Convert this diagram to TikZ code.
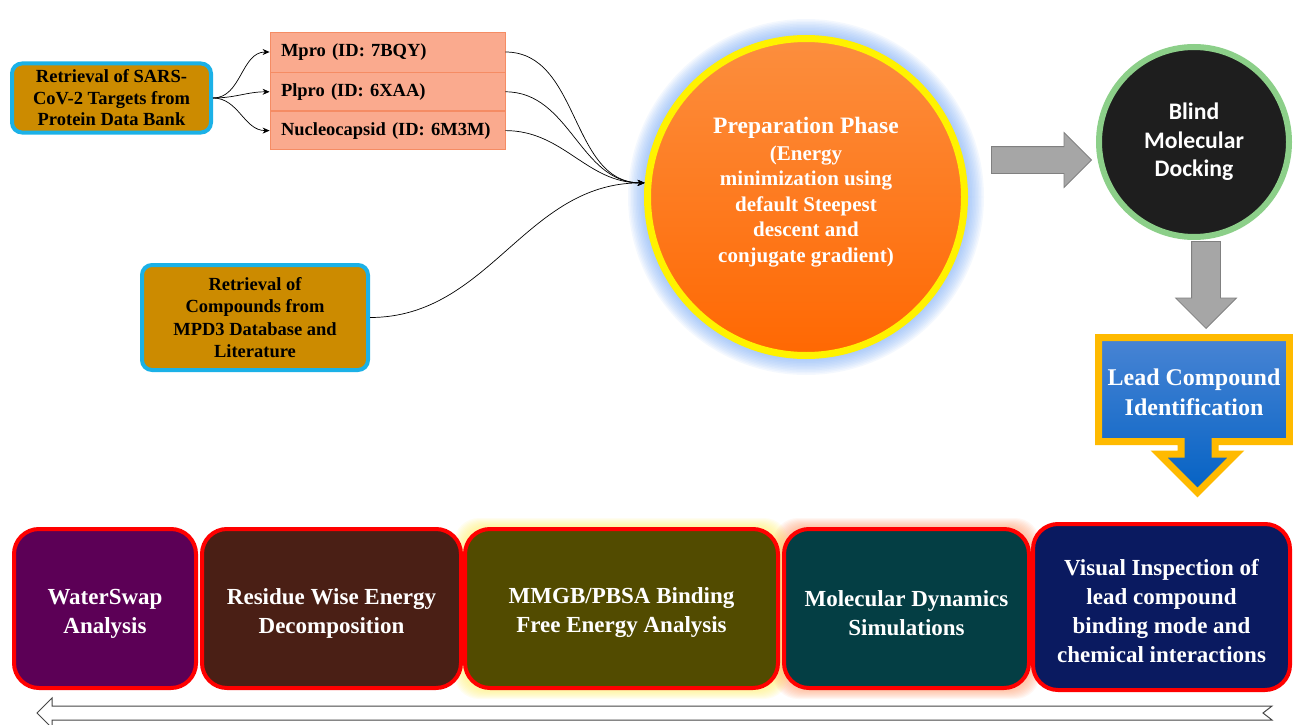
\documentclass[tikz,border=0pt]{standalone}
\usepackage{fontspec}
\setmainfont{Liberation Serif}
\newfontfamily\dockfont{Carlito}
\usetikzlibrary{arrows.meta,positioning,shapes.arrows}

\newcommand\fsz[2]{\fontsize{#1}{#2}\selectfont}
\newcommand\stagestrut{\rule{0pt}{25pt}}

\definecolor{fetchfill}{RGB}{204,139,0}
\definecolor{fetchedge}{RGB}{27,177,231}
\definecolor{pdbfill}{RGB}{250,170,142}
\definecolor{pdbedge}{RGB}{245,140,100}
\definecolor{phasetop}{RGB}{252,142,62}
\definecolor{phasebot}{RGB}{255,104,2}
\definecolor{phaseedge}{RGB}{255,242,0}
\definecolor{haloblue}{RGB}{120,170,245}
\definecolor{pointerfill}{RGB}{166,166,166}
\definecolor{pointeredge}{RGB}{128,128,128}
\definecolor{dockfill}{RGB}{30,30,30}
\definecolor{dockedge}{RGB}{140,207,137}
\definecolor{leadedge}{RGB}{255,186,0}
\definecolor{leadtop}{RGB}{72,132,212}
\definecolor{leadbot}{RGB}{4,98,196}
\definecolor{stageedge}{RGB}{255,0,0}
\definecolor{swapfill}{RGB}{92,0,86}
\definecolor{residfill}{RGB}{74,31,21}
\definecolor{mmfill}{RGB}{82,75,0}
\definecolor{mdfill}{RGB}{4,62,68}
\definecolor{visfill}{RGB}{10,26,96}
\definecolor{haloyellow}{RGB}{255,240,120}
\definecolor{haloorange}{RGB}{255,150,100}
\definecolor{timeline}{RGB}{70,70,70}

\begin{document}
\begin{tikzpicture}[x=1pt,y=-1pt,
    fetch/.style={draw=fetchedge, line width=4pt, fill=fetchfill, rounded corners=10pt, align=center, inner sep=0pt, font=\bfseries\fsz{18.5}{22.5}},
    pdb/.style={draw=pdbedge, line width=0.8pt, fill=pdbfill, text width=213pt, inner xsep=11pt, inner ysep=0pt, minimum height=38pt, align=left, font=\bfseries\fsz{18.5}{22}},
    link/.style={line width=0.7pt, -{Stealth[length=7pt,width=6pt]}},
    pointer/.style={single arrow, draw=pointeredge, fill=pointerfill, line width=0.8pt, inner xsep=0pt, anchor=tip},
    stage/.style={draw=stageedge, line width=4pt, rounded corners=25pt, text=white, align=center, minimum height=159pt, font=\bfseries\fsz{23}{29}}]
    \useasboundingbox (0,0) rectangle (1293,725);

    % input boxes
    \node[fetch, minimum width=199pt, minimum height=69pt, font=\bfseries\fsz{18.5}{21.5}] (targets) at (111.5,98) {Retrieval of SARS-\\CoV-2 Targets from\\Protein Data Bank};
    \node[fetch, minimum width=226pt, minimum height=105pt] (library) at (255,317.5) {Retrieval of\\Compounds from\\MPD3 Database and\\Literature};

    \node[pdb, minimum height=40pt] (mpro) at (387.5,52) {Mpro (ID: 7BQY)};
    \node[pdb, below=0pt of mpro] (plpro) {Plpro (ID: 6XAA)};
    \node[pdb, below=0pt of plpro] (ncap) {Nucleocapsid (ID: 6M3M)};

    % preparation phase with its halo
    \coordinate (phasec) at (806,197);
    \foreach \r in {163,164.5,...,178}
      \fill[haloblue, opacity=0.08] (phasec) circle (\r pt);
    \node[circle, draw=phaseedge, line width=7pt, top color=phasetop, bottom color=phasebot, minimum size=317pt] (phase) at (phasec) {};
    \node[text=white, align=center, font=\bfseries\fsz{21}{25.5}] (phasetext) at (806,192)
      {{\fsz{23.5}{27}Preparation Phase}\\[1.5pt](Energy\\minimization using\\default Steepest\\descent and\\conjugate gradient)};

    \draw[link] (targets.east) to[out=0,in=180] (mpro.west);
    \draw[link] (targets.east) to[out=0,in=180] (plpro.west);
    \draw[link] (targets.east) to[out=0,in=180] (ncap.west);
    \draw[link] (mpro.east) to[out=0,in=180] (phase.175);
    \draw[link] (plpro.east) to[out=0,in=180] (phase.175);
    \draw[link] (ncap.east) to[out=0,in=180] (phase.175);
    \draw[link] (library.east) to[out=0,in=180] (phase.175);

    % docking and lead identification
    \node[pointer, minimum height=100pt, inner ysep=13pt, single arrow head extend=14pt] (todock) at (1092,160) {};
    \node[circle, draw=dockedge, line width=6pt, fill=dockfill, minimum size=190pt, text=white, align=center, font=\dockfont\bfseries\fsz{23.7}{28.5}] (dock) at (1194,142) {Blind\\Molecular\\Docking};
    \node[pointer, rotate=-90, minimum height=87pt, inner ysep=14pt, single arrow head extend=16pt] (tolead) at (1206,329) {};

    \path[draw=leadedge, line width=7pt, top color=leadtop, bottom color=leadbot]
      (1098.5,337.5) -- (1289.5,337.5) -- (1289.5,441.5) -- (1215,441.5) -- (1215,454) -- (1236,454)
      -- (1197.5,492.5) -- (1159,454) -- (1181,454) -- (1181,441.5) -- (1098.5,441.5) -- cycle;
    \node[text=white, align=center, font=\bfseries\fsz{24}{30}] (lead) at (1194,392) {Lead Compound\\Identification};

    % analysis stages
    \foreach \d in {1,...,9} {
      \fill[haloyellow, opacity=0.1, rounded corners=25pt] (463-\d,527-\d) rectangle (780+\d,690+\d);
      \fill[haloorange, opacity=0.08, rounded corners=25pt] (782-\d,527-\d) rectangle (1031+\d,690+\d);
    }
    \node[stage, fill=swapfill, minimum width=182pt] (swap) at (105,608.5) {\stagestrut WaterSwap\\Analysis};
    \node[stage, fill=residfill, minimum width=259pt] (resid) at (331.5,608.5) {\stagestrut Residue Wise Energy\\Decomposition};
    \node[stage, fill=mmfill, minimum width=313pt] (mmgb) at (621.5,608.5) {\stagestrut MMGB/PBSA Binding\\Free Energy Analysis};
    \node[stage, fill=mdfill, minimum width=245pt] (mdsim) at (906.5,608.5) {\stagestrut Molecular Dynamics\\Simulations};
    \node[stage, fill=visfill, minimum width=257pt, minimum height=166pt] (visual) at (1161.5,607) {\stagestrut Visual Inspection of\\lead compound\\binding mode and\\chemical interactions};

    % workflow direction
    \draw[timeline, line width=1pt, fill=white, line join=miter]
      (37,713) -- (52,698) -- (52,706) -- (1272,706) -- (1263,713) -- (1272,720) -- (52,720) -- (52,728) -- cycle;
\end{tikzpicture}
\end{document}
